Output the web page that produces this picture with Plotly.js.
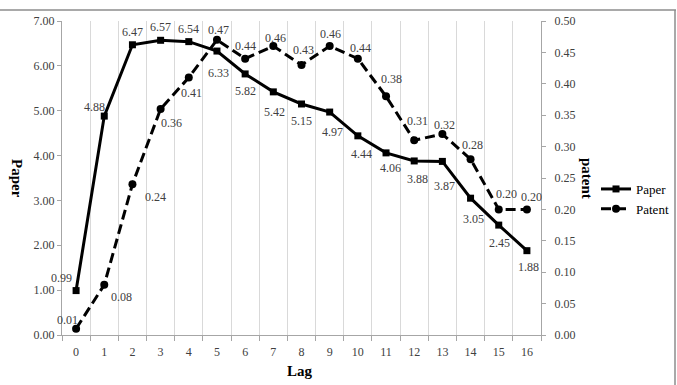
<!DOCTYPE html>
<html>
<head>
<meta charset="utf-8">
<script src="https://cdn.plot.ly/plotly-3.0.1.min.js"></script>
<style>html,body{margin:0;padding:0;background:#fff;}#chart{width:677px;height:385px;}</style>
</head>
<body>
<div id="chart"></div>
<script>
// ---- data ----
const lag = [0,1,2,3,4,5,6,7,8,9,10,11,12,13,14,15,16];
const paper = [0.99,4.88,6.47,6.57,6.54,6.33,5.82,5.42,5.15,4.97,4.44,4.06,3.88,3.87,3.05,2.45,1.88];
const patent = [0.01,0.08,0.24,0.36,0.41,0.47,0.44,0.46,0.43,0.46,0.44,0.38,0.31,0.32,0.28,0.20,0.20];

// ---- label offsets (pixels, style only) ----
const paperOff = [[-15,-13],[-10,-9],[0,-13],[0,-13],[0,-13],[2,22],[0,17],[1,20],[0,17],[3,20],[4,18],[4,15],[3,18],[2,25],[3,21],[1,18],[2,16]];
const patentOff = [[-9,-9],[17,12],[23,13],[11,14],[3,15],[2,-10],[0,-13],[2,-8],[2,-15],[1,-12],[3,-11],[5,-17],[3,-19],[2,-9],[2,-14],[8,-15],[5,-12]];

const FONT = '"Liberation Serif", "Times New Roman", serif';
const L = 62, R = 541, T = 21, B = 335;
const W = R - L, H = B - T;
const px = p => (p - L) / W;
const py = p => (B - p) / H;

const traces = [
  {x: lag, y: paper, name: 'Paper', type: 'scatter', mode: 'lines+markers',
   line: {color: '#000', width: 3}, marker: {symbol: 'square', size: 7, color: '#000'},
   xaxis: 'x', yaxis: 'y'},
  {x: lag, y: patent, name: 'Patent', type: 'scatter', mode: 'lines+markers',
   line: {color: '#000', width: 3, dash: '10px,5px'}, marker: {symbol: 'circle', size: 8, color: '#000'},
   xaxis: 'x', yaxis: 'y2'}
];

const annotations = [];
lag.forEach((l, i) => {
  annotations.push({x: l, y: paper[i], xref: 'x', yref: 'y', text: paper[i].toFixed(2), showarrow: false,
    xanchor: 'center', yanchor: 'middle',
    xshift: paperOff[i][0], yshift: -paperOff[i][1], font: {family: FONT, size: 12, color: '#404040'}});
  annotations.push({x: l, y: patent[i], xref: 'x', yref: 'y2', text: patent[i].toFixed(2), showarrow: false,
    xanchor: 'center', yanchor: 'middle',
    xshift: patentOff[i][0], yshift: -patentOff[i][1], font: {family: FONT, size: 12, color: '#404040'}});
});
const titleFont = {family: FONT, size: 15, color: '#000'};
annotations.push({xref: 'paper', yref: 'paper', x: px(17), y: py(178), xanchor: 'center', yanchor: 'middle',
  text: '<b>Paper</b>', textangle: 90, showarrow: false, font: titleFont});
annotations.push({xref: 'paper', yref: 'paper', x: px(587), y: py(178), xanchor: 'center', yanchor: 'middle',
  text: '<b>patent</b>', textangle: 90, showarrow: false, font: titleFont});
annotations.push({xref: 'paper', yref: 'paper', x: px(300), y: py(371), xanchor: 'center', yanchor: 'middle',
  text: '<b>Lag</b>', showarrow: false, font: titleFont});

const layout = {
  width: 677, height: 385,
  margin: {l: L, r: 677 - R, t: T, b: 385 - B, autoexpand: false},
  paper_bgcolor: '#fff', plot_bgcolor: '#fff',
  font: {family: FONT, size: 12, color: '#404040'},
  showlegend: true,
  legend: {x: px(596), y: py(199), xanchor: 'left', yanchor: 'middle', font: {family: FONT, size: 13, color: '#000'},
    bgcolor: 'rgba(0,0,0,0)', tracegroupgap: 0},
  xaxis: {range: [-0.5, 16.5], tickmode: 'array', tickvals: lag, ticktext: lag.map(String),
    ticks: '', showgrid: false, zeroline: false, showline: true, linecolor: '#a6a6a6', linewidth: 1,
    ticklabelstandoff: 6, automargin: false,
    tickfont: {family: FONT, size: 12, color: '#404040'},
    minor: {tick0: 0.5, dtick: 1, ticks: 'outside', ticklen: 5, tickcolor: '#a6a6a6', showgrid: true, gridcolor: '#d9d9d9', gridwidth: 1}},
  yaxis: {range: [0, 7], tickmode: 'linear', tick0: 0, dtick: 1, tickformat: '.2f', automargin: false,
    ticks: 'outside', ticklen: 4, tickcolor: '#a6a6a6', showgrid: false, zeroline: false,
    showline: true, linecolor: '#a6a6a6', tickfont: {family: FONT, size: 12, color: '#404040'}},
  yaxis2: {range: [0, 0.5], tickmode: 'linear', tick0: 0, dtick: 0.05, tickformat: '.2f', overlaying: 'y', side: 'right',
    ticks: 'outside', ticklen: 4, tickcolor: '#a6a6a6', showgrid: false, zeroline: false, ticklabelstandoff: 6, automargin: false,
    showline: true, linecolor: '#a6a6a6', tickfont: {family: FONT, size: 12, color: '#404040'}},
  annotations: annotations,
  shapes: [
    {type: 'line', xref: 'paper', yref: 'paper', x0: px(0), x1: px(676), y0: py(10), y1: py(10), line: {color: '#8c8c8c', width: 1.5}},
    {type: 'line', xref: 'paper', yref: 'paper', x0: px(675), x1: px(675), y0: py(10), y1: py(386), line: {color: '#8c8c8c', width: 1.5}}
  ]
};

Plotly.newPlot('chart', traces, layout, {displayModeBar: false, staticPlot: true});
</script>
</body>
</html>
